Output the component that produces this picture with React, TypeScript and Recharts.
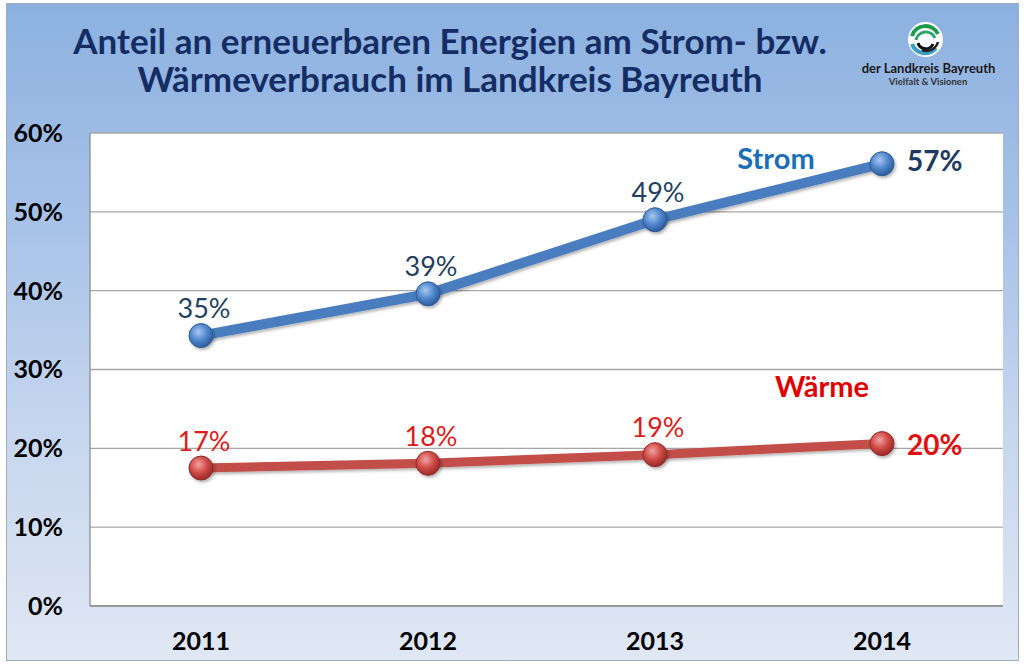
import React from "react";
import {
  LineChart,
  Line,
  XAxis,
  YAxis,
  CartesianGrid,
  LabelList,
} from "recharts";

const years = ["2011", "2012", "2013", "2014"];
const stromValues = [34.3, 39.6, 49.0, 56.1];
const waermeValues = [17.5, 18.1, 19.2, 20.6];
const stromLabels = ["35%", "39%", "49%", "57%"];
const waermeLabels = ["17%", "18%", "19%", "20%"];
const yTicks = [0, 10, 20, 30, 40, 50, 60];
const seriesNames = { strom: "Strom", waerme: "Wärme" };
const titleLines = [
  "Anteil an erneuerbaren Energien am Strom- bzw.",
  "Wärmeverbrauch im Landkreis Bayreuth",
];
const logoLines = ["der Landkreis Bayreuth", "Vielfalt & Visionen"];

const data = years.map((y, i) => ({
  year: y,
  strom: stromValues[i],
  waerme: waermeValues[i],
}));

const FONT = "Lato, 'Open Sans', sans-serif";

const makeDot = (grad: string, stroke: string) => (props: any) => {
  const { cx, cy, index } = props;
  if (cx == null || cy == null) return null;
  return (
    <g key={`d-${grad}-${index}`} filter="url(#shadow)">
      <circle cx={cx} cy={cy} r={12} fill={`url(#${grad})`} stroke={stroke} strokeWidth={1} />
    </g>
  );
};

const makeLabel =
  (labels: string[], color: string, lastColor: string, name: string, nameColor: string, nameDx: number, nameDy: number, lastDy: number) =>
  (props: any) => {
    const { x, y, index } = props;
    if (x == null || y == null) return null;
    const isLast = index === labels.length - 1;
    if (isLast) {
      return (
        <g key={`l-${name}-${index}`}>
          <text
            x={x + 25}
            y={y + lastDy}
            fill={lastColor}
            fontFamily={FONT}
            fontWeight={700}
            fontSize={28}
            textAnchor="start"
            dominantBaseline="central"
          >
            {labels[index]}
          </text>
          <text
            x={x + nameDx}
            y={y + nameDy}
            fill={nameColor}
            fontFamily={FONT}
            fontWeight={700}
            fontSize={29}
            textAnchor="middle"
            dominantBaseline="central"
          >
            {name}
          </text>
        </g>
      );
    }
    return (
      <text
        key={`l-${name}-${index}`}
        x={x + 3}
        y={y - 28}
        fill={color}
        fontFamily={FONT}
        fontWeight={400}
        fontSize={27}
        textAnchor="middle"
        dominantBaseline="central"
      >
        {labels[index]}
      </text>
    );
  };

export default function App() {
  return (
    <div
      style={{
        position: "absolute",
        left: 0,
        top: 0,
        width: 1024,
        height: 666,
        background: "#ffffff",
        overflow: "hidden",
      }}
    >
      <div
        style={{
          position: "absolute",
          left: 6,
          top: 3,
          width: 1011,
          height: 656,
          border: "1px solid #a3abb9",
          background: "linear-gradient(to bottom, #8cb1e0 0%, #a9c3e8 35%, #c6d6ee 65%, #e0e7f4 100%)",
        }}
      />
      <div
        style={{
          position: "absolute",
          left: 0,
          top: 21,
          width: 900,
          textAlign: "center",
          fontFamily: FONT,
          fontWeight: 700,
          fontSize: 35,
          lineHeight: "38px",
          color: "#142d64",
        }}
      >
        <div>{titleLines[0]}</div>
        <div>{titleLines[1]}</div>
      </div>
      <svg
        style={{ position: "absolute", left: 850, top: 0 }}
        width={160}
        height={100}
      >
        <circle cx={75.5} cy={39.5} r={17.5} fill="#ffffff" />
        <path d="M 62 36 A 14 14 0 0 1 88 34" stroke="#1e9a4c" strokeWidth={4} fill="none" />
        <path d="M 66 40 A 10 10 0 0 1 85 38" stroke="#2aa56a" strokeWidth={3} fill="none" />
        <path d="M 62 44 A 14 14 0 0 0 86 48" stroke="#3b9fc4" strokeWidth={4} fill="none" />
        <path d="M 68 43 A 8 8 0 0 0 83 44" stroke="#111" strokeWidth={3} fill="none" />
        <path d="M 72 50 A 12 12 0 0 0 88 42" stroke="#222" strokeWidth={2.5} fill="none" />
        <text x={78.5} y={68} textAnchor="middle" dominantBaseline="central" fontFamily={FONT} fontWeight={700} fontSize={13} fill="#1a1a1a">
          {logoLines[0]}
        </text>
        <text x={78} y={81} textAnchor="middle" dominantBaseline="central" fontFamily={FONT} fontWeight={700} fontSize={9.5} fill="#333">
          {logoLines[1]}
        </text>
      </svg>
      <div style={{ position: "absolute", left: 0, top: 0 }}>
        <LineChart
          width={1024}
          height={666}
          data={data}
          margin={{ top: 133, right: 21, bottom: 20, left: 10 }}
        >
          <defs>
            <radialGradient id="gBlue" cx="40%" cy="35%" r="65%">
              <stop offset="0%" stopColor="#a9c8f0" />
              <stop offset="55%" stopColor="#4f86cc" />
              <stop offset="100%" stopColor="#2c5c9e" />
            </radialGradient>
            <radialGradient id="gRed" cx="40%" cy="35%" r="65%">
              <stop offset="0%" stopColor="#f3a3a1" />
              <stop offset="55%" stopColor="#cf4a47" />
              <stop offset="100%" stopColor="#9a2b29" />
            </radialGradient>
            <filter id="shadow" x="-20%" y="-20%" width="140%" height="160%">
              <feDropShadow dx="1.5" dy="2" stdDeviation="1.5" floodColor="#000" floodOpacity="0.3" />
            </filter>
          </defs>
          <CartesianGrid
            vertical={false}
            stroke="#a6a6a6"
            strokeWidth={1.3}
            fill="#ffffff"
            fillOpacity={1}
          />
          <XAxis
            dataKey="year"
            height={40}
            padding={{ left: 111, right: 121 }}
            axisLine={{ stroke: "#8e8e8e", strokeWidth: 1.3 }}
            tickLine={false}
            tickSize={0}
            tickMargin={26}
            tick={{ fontSize: 25, fontWeight: 700, fill: "#000", fontFamily: FONT }}
          />
          <YAxis
            width={80}
            domain={[0, 60]}
            ticks={yTicks}
            tickFormatter={(v: number) => `${v}%`}
            axisLine={{ stroke: "#8e8e8e", strokeWidth: 1.3 }}
            tickLine={false}
            tickSize={0}
            tickMargin={27}
            tick={{ fontSize: 25, fontWeight: 700, fill: "#000", fontFamily: FONT }}
          />
          <YAxis
            yAxisId="border"
            orientation="right"
            width={0}
            domain={[0, 60]}
            ticks={yTicks}
            axisLine={{ stroke: "#8e8e8e", strokeWidth: 1.3 }}
            tickLine={false}
            tick={false}
          />
          <Line
            dataKey="strom"
            stroke="#4a7dc0"
            strokeWidth={10}
            isAnimationActive={false}
            dot={makeDot("gBlue", "#2d5a96")}
            activeDot={false}
            style={{ filter: "url(#shadow)" }}
          >
            <LabelList
              dataKey="strom"
              content={makeLabel(stromLabels, "#243f60", "#1f3a60", seriesNames.strom, "#1a6fb8", -106, -6, -4)}
            />
          </Line>
          <Line
            dataKey="waerme"
            stroke="#c24d4a"
            strokeWidth={9}
            isAnimationActive={false}
            dot={makeDot("gRed", "#8f2b29")}
            activeDot={false}
            style={{ filter: "url(#shadow)" }}
          >
            <LabelList
              dataKey="waerme"
              content={makeLabel(waermeLabels, "#dc1c1c", "#e01010", seriesNames.waerme, "#e00000", -60, -58, 0)}
            />
          </Line>
        </LineChart>
      </div>
    </div>
  );
}
